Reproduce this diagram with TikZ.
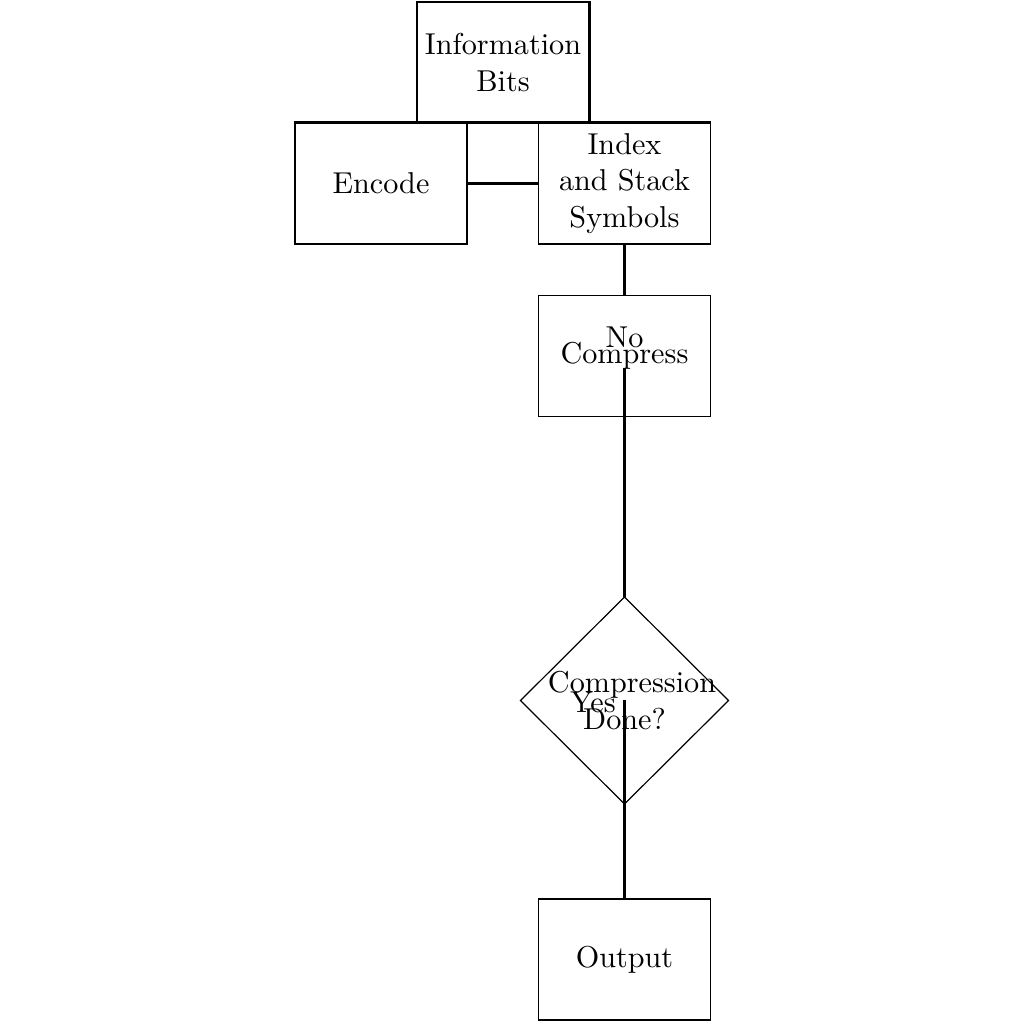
\documentclass[tikz,border=0pt]{standalone}
\usetikzlibrary{shapes.geometric}
\begin{document}
\begin{tikzpicture}[x=0.011641cm,y=-0.011641cm,
  blk/.style={draw,line width=0.4pt,minimum width=172*0.011641cm,minimum height=121*0.011641cm,inner sep=0pt,align=center},
  dec/.style={draw,diamond,line width=0.4pt,inner sep=0pt,outer sep=0pt,minimum width=208*0.011641cm,minimum height=207*0.011641cm},
  conn/.style={line width=0.9pt},
  lbl/.style={inner sep=0pt}]
\useasboundingbox (0,0) rectangle (1024,1024);
\node[blk] (info) at (503,62.5) {Information\\Bits};
\node[blk] (enc) at (381,183.5) {Encode};
\node[blk] (idx) at (624.5,183.5) {Index\\and Stack\\Symbols};
\node[blk] (cmp) at (624.5,356) {Compress};
\node[dec] (done) at (624.5,700.5) {};
\node[lbl,align=center] (donetext) at (624.5,700.5) {\hspace*{5pt}Compression\\Done?};
\node[blk] (out) at (624.5,959.5) {Output};
\coordinate (noend) at (624.5,368);
\coordinate (yesstart) at (624.5,700);
\draw[conn] (info.north east) -- (info.south east);
\draw[conn] (enc.north west) -- (idx.north east);
\draw[conn] (enc.east) -- (idx.west);
\draw[conn] (idx.south) -- (cmp.north);
\draw[conn] (done.north) -- (noend);
\node[lbl] (no) at (624.5,337) {No};
\draw[conn] (yesstart) -- (out.north);
\node[lbl] (yes) at (593,702) {Yes};
\end{tikzpicture}
\end{document}
